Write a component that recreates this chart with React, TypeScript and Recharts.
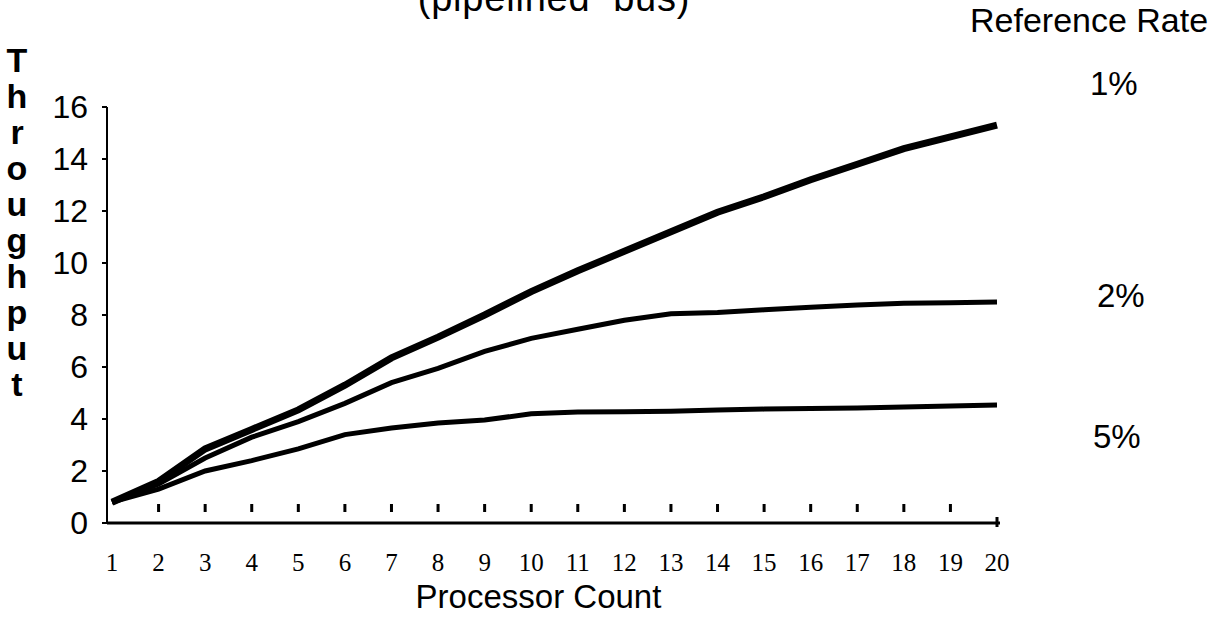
import { Label, Line, LineChart, XAxis, YAxis } from 'recharts';

// processor count on the x axis
const processorCounts = [1, 2, 3, 4, 5, 6, 7, 8, 9, 10, 11, 12, 13, 14, 15, 16, 17, 18, 19, 20];

// throughput, one array per reference rate
const rate1 = [0.8, 1.6, 2.85, 3.6, 4.35, 5.3, 6.35, 7.15, 8.0, 8.9, 9.7, 10.45, 11.2, 11.95, 12.55, 13.2, 13.8, 14.4, 14.85, 15.3];
const rate2 = [0.8, 1.5, 2.5, 3.3, 3.9, 4.6, 5.4, 5.95, 6.6, 7.1, 7.45, 7.8, 8.05, 8.1, 8.2, 8.3, 8.38, 8.45, 8.47, 8.5];
const rate5 = [0.8, 1.3, 2.0, 2.4, 2.85, 3.4, 3.65, 3.85, 3.96, 4.2, 4.27, 4.28, 4.3, 4.35, 4.38, 4.4, 4.42, 4.46, 4.5, 4.54];

const yTicks = [0, 2, 4, 6, 8, 10, 12, 14, 16];
const rateLabels = ['1%', '2%', '5%'];

const data = processorCounts.map((count, i) => ({
  count,
  r1: rate1[i],
  r2: rate2[i],
  r5: rate5[i],
}));

const sans = '"Liberation Sans", Arial, sans-serif';
const serif = '"Liberation Serif", "Times New Roman", serif';

function CountTick(props: any) {
  const { x, y, payload, index } = props;
  const last = index === processorCounts.length - 1;
  return (
    <g>
      {index > 0 && !last && <rect x={x - 1.5} y={y - 19} width={3} height={8} fill="#000" />}
      {last && <line x1={x} x2={x} y1={y - 6} y2={y + 4} stroke="#000" strokeWidth={3} />}
      <text x={x} y={y + 48} textAnchor="middle" fontFamily={serif} fontSize={25} fill="#000">
        {payload.value}
      </text>
    </g>
  );
}

const labelTops = [67, 279, 420];
const labelLefts = [1090, 1097, 1093];

export default function App() {
  return (
    <div style={{ position: 'absolute', left: 0, top: 0, width: 1215, height: 621, background: '#fff', overflow: 'hidden' }}>
      <LineChart width={1215} height={621} data={data} margin={{ top: 107, right: 215, bottom: 6, left: 0 }}>
        <XAxis
          dataKey="count"
          type="category"
          interval={0}
          height={92}
          padding={{ left: 5, right: 3 }}
          axisLine={{ stroke: '#000', strokeWidth: 3 }}
          tickLine={false}
          tickSize={0}
          tickMargin={0}
          tick={<CountTick />}
        >
          <Label
            value="Processor Count"
            position="insideBottom"
            offset={7}
            dx={-15}
            style={{ fontFamily: sans, fontSize: 33, fill: '#000' }}
          />
        </XAxis>
        <YAxis
          type="number"
          domain={[0, 16]}
          ticks={yTicks}
          interval={0}
          width={107}
          axisLine={{ stroke: '#000', strokeWidth: 2 }}
          tickLine={{ stroke: '#000', strokeWidth: 2 }}
          tickSize={5}
          tickMargin={14}
          tick={{ fill: '#000', fontSize: 32, fontFamily: sans }}
        />
        <Line type="linear" dataKey="r1" stroke="#000" strokeWidth={7} dot={false} isAnimationActive={false} />
        <Line type="linear" dataKey="r2" stroke="#000" strokeWidth={5} dot={false} isAnimationActive={false} />
        <Line type="linear" dataKey="r5" stroke="#000" strokeWidth={5} dot={false} isAnimationActive={false} />
      </LineChart>

      <div
        style={{
          position: 'absolute',
          left: 554,
          top: -21,
          transform: 'translateX(-50%)',
          fontFamily: sans,
          fontSize: 38,
          lineHeight: 1,
          letterSpacing: 0.8,
          whiteSpace: 'pre',
        }}
      >
        (pipelined  bus)
      </div>

      <div style={{ position: 'absolute', left: 970, top: 3, fontFamily: sans, fontSize: 34, lineHeight: 1, whiteSpace: 'pre' }}>
        Reference Rate
      </div>

      {rateLabels.map((label, i) => (
        <div
          key={label}
          style={{ position: 'absolute', left: labelLefts[i], top: labelTops[i], fontFamily: sans, fontSize: 33, lineHeight: 1 }}
        >
          {label}
        </div>
      ))}

      <div style={{ position: 'absolute', left: 0, top: 42, width: 34, fontFamily: sans, fontSize: 34, fontWeight: 'bold', lineHeight: '36px', textAlign: 'center' }}>
        {'Throughput'.split('').map((ch, i) => (
          <div key={i}>{ch}</div>
        ))}
      </div>
    </div>
  );
}
